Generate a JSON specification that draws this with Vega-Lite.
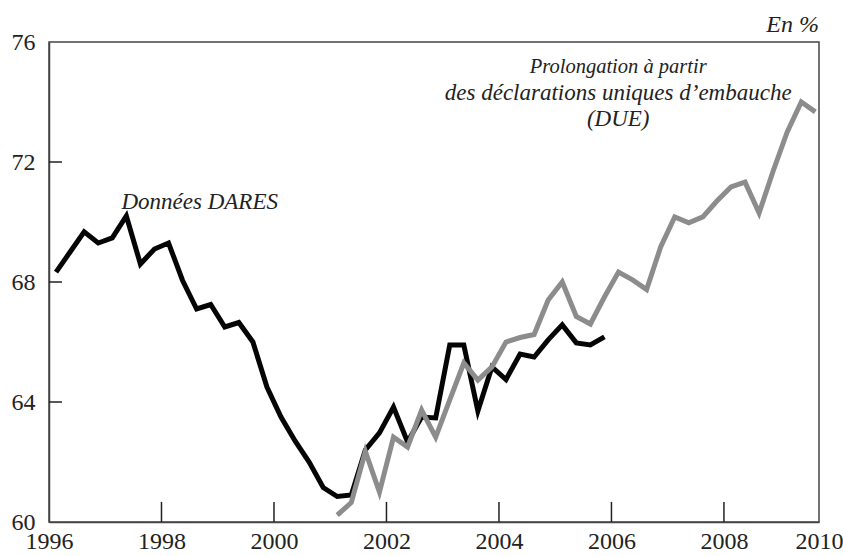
{
  "$schema": "https://vega.github.io/schema/vega-lite/v6.json",
  "width": 770,
  "height": 480,
  "autosize": {"type": "none"},
  "padding": {"left": 49, "top": 42, "right": 24, "bottom": 34},
  "background": "white",
  "title": {"text": "En %", "anchor": "end", "frame": "group", "font": "Liberation Serif", "fontStyle": "italic", "fontWeight": "normal", "fontSize": 24, "color": "#222", "offset": -7},
  "config": {"view": {"stroke": "#444", "strokeWidth": 1.5}, "font": "Liberation Serif"},
  "datasets": {
    "series": [
      {"t": 1996.125, "v": 68.33, "s": "DARES"},
      {"t": 1996.375, "v": 69.0, "s": "DARES"},
      {"t": 1996.625, "v": 69.67, "s": "DARES"},
      {"t": 1996.875, "v": 69.3, "s": "DARES"},
      {"t": 1997.125, "v": 69.47, "s": "DARES"},
      {"t": 1997.375, "v": 70.2, "s": "DARES"},
      {"t": 1997.625, "v": 68.6, "s": "DARES"},
      {"t": 1997.875, "v": 69.1, "s": "DARES"},
      {"t": 1998.125, "v": 69.3, "s": "DARES"},
      {"t": 1998.375, "v": 68.05, "s": "DARES"},
      {"t": 1998.625, "v": 67.1, "s": "DARES"},
      {"t": 1998.875, "v": 67.25, "s": "DARES"},
      {"t": 1999.125, "v": 66.5, "s": "DARES"},
      {"t": 1999.375, "v": 66.65, "s": "DARES"},
      {"t": 1999.625, "v": 66.0, "s": "DARES"},
      {"t": 1999.875, "v": 64.5, "s": "DARES"},
      {"t": 2000.125, "v": 63.5, "s": "DARES"},
      {"t": 2000.375, "v": 62.7, "s": "DARES"},
      {"t": 2000.625, "v": 62.0, "s": "DARES"},
      {"t": 2000.875, "v": 61.15, "s": "DARES"},
      {"t": 2001.125, "v": 60.85, "s": "DARES"},
      {"t": 2001.375, "v": 60.9, "s": "DARES"},
      {"t": 2001.625, "v": 62.4, "s": "DARES"},
      {"t": 2001.875, "v": 62.97, "s": "DARES"},
      {"t": 2002.125, "v": 63.83, "s": "DARES"},
      {"t": 2002.375, "v": 62.67, "s": "DARES"},
      {"t": 2002.625, "v": 63.5, "s": "DARES"},
      {"t": 2002.875, "v": 63.47, "s": "DARES"},
      {"t": 2003.125, "v": 65.9, "s": "DARES"},
      {"t": 2003.375, "v": 65.9, "s": "DARES"},
      {"t": 2003.625, "v": 63.7, "s": "DARES"},
      {"t": 2003.875, "v": 65.17, "s": "DARES"},
      {"t": 2004.125, "v": 64.75, "s": "DARES"},
      {"t": 2004.375, "v": 65.6, "s": "DARES"},
      {"t": 2004.625, "v": 65.5, "s": "DARES"},
      {"t": 2004.875, "v": 66.07, "s": "DARES"},
      {"t": 2005.125, "v": 66.57, "s": "DARES"},
      {"t": 2005.375, "v": 65.97, "s": "DARES"},
      {"t": 2005.625, "v": 65.9, "s": "DARES"},
      {"t": 2005.875, "v": 66.17, "s": "DARES"},
      {"t": 2001.125, "v": 60.23, "s": "DUE"},
      {"t": 2001.375, "v": 60.65, "s": "DUE"},
      {"t": 2001.625, "v": 62.35, "s": "DUE"},
      {"t": 2001.875, "v": 61.0, "s": "DUE"},
      {"t": 2002.125, "v": 62.83, "s": "DUE"},
      {"t": 2002.375, "v": 62.5, "s": "DUE"},
      {"t": 2002.625, "v": 63.73, "s": "DUE"},
      {"t": 2002.875, "v": 62.83, "s": "DUE"},
      {"t": 2003.125, "v": 64.07, "s": "DUE"},
      {"t": 2003.375, "v": 65.3, "s": "DUE"},
      {"t": 2003.625, "v": 64.73, "s": "DUE"},
      {"t": 2003.875, "v": 65.17, "s": "DUE"},
      {"t": 2004.125, "v": 66.0, "s": "DUE"},
      {"t": 2004.375, "v": 66.15, "s": "DUE"},
      {"t": 2004.625, "v": 66.25, "s": "DUE"},
      {"t": 2004.875, "v": 67.4, "s": "DUE"},
      {"t": 2005.125, "v": 68.0, "s": "DUE"},
      {"t": 2005.375, "v": 66.85, "s": "DUE"},
      {"t": 2005.625, "v": 66.6, "s": "DUE"},
      {"t": 2005.875, "v": 67.5, "s": "DUE"},
      {"t": 2006.125, "v": 68.33, "s": "DUE"},
      {"t": 2006.375, "v": 68.07, "s": "DUE"},
      {"t": 2006.625, "v": 67.75, "s": "DUE"},
      {"t": 2006.875, "v": 69.17, "s": "DUE"},
      {"t": 2007.125, "v": 70.17, "s": "DUE"},
      {"t": 2007.375, "v": 69.97, "s": "DUE"},
      {"t": 2007.625, "v": 70.17, "s": "DUE"},
      {"t": 2007.875, "v": 70.7, "s": "DUE"},
      {"t": 2008.125, "v": 71.17, "s": "DUE"},
      {"t": 2008.375, "v": 71.33, "s": "DUE"},
      {"t": 2008.625, "v": 70.3, "s": "DUE"},
      {"t": 2008.875, "v": 71.7, "s": "DUE"},
      {"t": 2009.125, "v": 73.0, "s": "DUE"},
      {"t": 2009.375, "v": 74.0, "s": "DUE"},
      {"t": 2009.625, "v": 73.67, "s": "DUE"}
    ],
    "notes": [
      {"t": 1998.68, "v": 70.68, "label": "Données DARES", "kind": "main"},
      {"t": 2006.12, "v": 75.17, "label": "Prolongation à partir", "kind": "head"},
      {"t": 2006.12, "v": 74.3, "label": "des déclarations uniques d’embauche", "kind": "main"},
      {"t": 2006.12, "v": 73.45, "label": "(DUE)", "kind": "main"}
    ],
    "xticks": [{"year": 1998}, {"year": 2000}, {"year": 2002}, {"year": 2004}, {"year": 2006}, {"year": 2008}],
    "yticks": [{"level": 64}, {"level": 68}, {"level": 72}]
  },
  "layer": [
    {
      "data": {"name": "series"},
      "mark": {"type": "line", "strokeWidth": 5, "strokeJoin": "miter"},
      "encoding": {
        "x": {
          "field": "t", "type": "quantitative",
          "scale": {"domain": [1996, 2009.69], "nice": false, "zero": false},
          "axis": {
            "values": [1996, 1998, 2000, 2002, 2004, 2006, 2008, 2009.69],
            "labelExpr": "datum.value > 2009 ? '2010' : format(datum.value, 'd')",
            "title": null, "grid": false, "ticks": false,
            "domainColor": "#444", "domainWidth": 1.5,
            "labelPadding": 7, "labelFontSize": 24, "labelColor": "#222",
            "labelFlush": false, "labelDx": -26,
            "labelOverlap": false, "labelBound": false
          }
        },
        "y": {
          "field": "v", "type": "quantitative",
          "scale": {"domain": [60, 76], "nice": false, "zero": false},
          "axis": {
            "values": [60, 64, 68, 72, 76],
            "title": null, "grid": false, "ticks": false,
            "domainColor": "#444", "domainWidth": 1.5,
            "labelPadding": 14, "labelFontSize": 24, "labelColor": "#222",
            "labelOverlap": false, "labelBound": false
          }
        },
        "color": {
          "field": "s", "type": "nominal",
          "scale": {"domain": ["DARES", "DUE"], "range": ["#050505", "#8c8c8c"]},
          "legend": null
        }
      }
    },
    {
      "data": {"name": "xticks"},
      "mark": {"type": "rule", "color": "#222", "strokeWidth": 1.5},
      "encoding": {
        "x": {"field": "year", "type": "quantitative"},
        "y": {"datum": 60},
        "y2": {"datum": 60.67}
      }
    },
    {
      "data": {"name": "yticks"},
      "mark": {"type": "rule", "color": "#222", "strokeWidth": 1.5},
      "encoding": {
        "y": {"field": "level", "type": "quantitative"},
        "x": {"datum": 1996},
        "x2": {"datum": 1996.23}
      }
    },
    {
      "data": {"name": "notes"},
      "transform": [{"filter": "datum.kind == 'main'"}],
      "mark": {"type": "text", "fontStyle": "italic", "fontSize": 23, "color": "#222", "align": "center", "baseline": "middle"},
      "encoding": {
        "x": {"field": "t", "type": "quantitative"},
        "y": {"field": "v", "type": "quantitative"},
        "text": {"field": "label"}
      }
    },
    {
      "data": {"name": "notes"},
      "transform": [{"filter": "datum.kind == 'head'"}],
      "mark": {"type": "text", "fontStyle": "italic", "fontSize": 20.5, "color": "#222", "align": "center", "baseline": "middle"},
      "encoding": {
        "x": {"field": "t", "type": "quantitative"},
        "y": {"field": "v", "type": "quantitative"},
        "text": {"field": "label"}
      }
    }
  ]
}
